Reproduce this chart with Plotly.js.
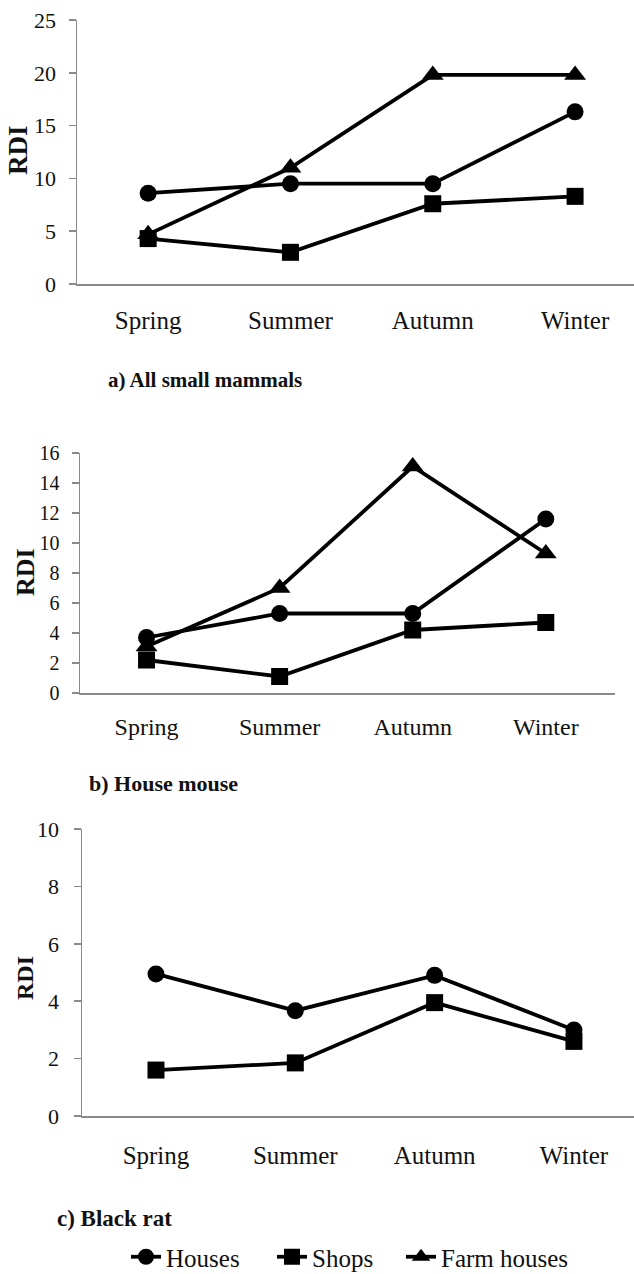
<!DOCTYPE html>
<html>
<head>
<meta charset="utf-8">
<script src="https://cdn.plot.ly/plotly-3.0.1.min.js"></script>
<style>html,body{margin:0;padding:0;background:#fff;}#chart{width:634px;height:1274px;}</style>
</head>
<body>
<div id="chart"></div>
<script>
const seasons = ["Spring", "Summer", "Autumn", "Winter"];
const seriesNames = ["Houses", "Shops", "Farm houses"];

// a) All small mammals
const allHouses = [8.6, 9.5, 9.5, 16.3];
const allShops = [4.3, 3.0, 7.6, 8.3];
const allFarm = [4.7, 11.0, 19.8, 19.8];

// b) House mouse
const mouseHouses = [3.7, 5.3, 5.3, 11.6];
const mouseShops = [2.2, 1.1, 4.2, 4.7];
const mouseFarm = [3.1, 7.0, 15.1, 9.3];

// c) Black rat
const ratHouses = [4.95, 3.67, 4.9, 3.0];
const ratShops = [1.6, 1.85, 3.95, 2.6];

const captions = ["a) All small mammals", "b) House mouse", "c) Black rat"];
const yTitle = "RDI";

const W = 634, H = 1274;
const FONT = "'Liberation Serif', 'Times New Roman', Times, serif";
const symbols = ["circle", "square", "triangle-up"];
const msize = [17, 17, 19];
const legendIds = ["legend", "legend2", "legend3"];

function tr(name, idx, y, ax, showleg) {
  return {
    type: "scatter", mode: "lines+markers", name: name,
    x: seasons, y: y, xaxis: "x" + ax, yaxis: "y" + ax,
    line: {color: "#000", width: 3.8},
    marker: {symbol: symbols[idx], size: msize[idx], color: "#000"},
    legend: legendIds[idx],
    legendgroup: name, showlegend: showleg, hoverinfo: "skip"
  };
}

const data = [
  tr(seriesNames[0], 0, allHouses, "", true),
  tr(seriesNames[1], 1, allShops, "", true),
  tr(seriesNames[2], 2, allFarm, "", true),
  tr(seriesNames[0], 0, mouseHouses, "2", false),
  tr(seriesNames[1], 1, mouseShops, "2", false),
  tr(seriesNames[2], 2, mouseFarm, "2", false),
  tr(seriesNames[0], 0, ratHouses, "3", false),
  tr(seriesNames[1], 1, ratShops, "3", false)
];

function px(v) { return v / W; }
function py(v) { return 1 - v / H; }

function xax(x0, x1, r, fs, stand, anchor) {
  return {
    domain: [px(x0), px(x1)], anchor: anchor, type: "category",
    range: r, showgrid: false, zeroline: false, showline: true,
    linecolor: "#8a8a8a", linewidth: 1.5, ticks: "",
    tickfont: {family: FONT, size: fs, color: "#111"},
    ticklabelstandoff: stand, fixedrange: true
  };
}
function yax(top, bottom, maxv, dt, fs, stand, anchor) {
  return {
    domain: [py(bottom), py(top)], anchor: anchor,
    range: [0, maxv], dtick: dt, showgrid: false, zeroline: false,
    showline: true, linecolor: "#8a8a8a", linewidth: 1.5,
    ticks: "outside", ticklen: 7, tickcolor: "#8a8a8a", tickwidth: 1.5,
    tickfont: {family: FONT, size: fs, color: "#111"},
    ticklabelstandoff: stand, fixedrange: true
  };
}
function leg(xpx) {
  return {
    orientation: "h", x: px(xpx), y: py(1257), xanchor: "left", yanchor: "middle",
    font: {family: FONT, size: 25, color: "#111"},
    bgcolor: "rgba(0,0,0,0)", itemclick: false, itemdoubleclick: false
  };
}

const layout = {
  width: W, height: H,
  margin: {l: 0, r: 0, t: 0, b: 0, autoexpand: false},
  paper_bgcolor: "#fff", plot_bgcolor: "#fff",
  font: {family: FONT},
  showlegend: true,
  legend: leg(126),
  legend2: leg(272),
  legend3: leg(401),
  xaxis: xax(77, 634, [-0.5, 3.414], 25, 13, "y"),
  yaxis: yax(20, 284, 25, 5, 22, 8, "x"),
  xaxis2: xax(80, 615, [-0.5, 3.52], 24, 12, "y2"),
  yaxis2: yax(453, 693, 16, 2, 20, 8, "x2"),
  xaxis3: xax(82, 634, [-0.531, 3.431], 25, 16, "y3"),
  yaxis3: yax(829, 1116, 10, 2, 22, 10, "x3"),
  annotations: [
    {text: "<b>" + captions[0] + "</b>", x: px(106), y: py(380), xref: "paper", yref: "paper",
     xanchor: "left", yanchor: "middle", showarrow: false, font: {family: FONT, size: 21, color: "#111"}},
    {text: "<b>" + captions[1] + "</b>", x: px(87), y: py(783), xref: "paper", yref: "paper",
     xanchor: "left", yanchor: "middle", showarrow: false, font: {family: FONT, size: 22, color: "#111"}},
    {text: "<b>" + captions[2] + "</b>", x: px(55), y: py(1218), xref: "paper", yref: "paper",
     xanchor: "left", yanchor: "middle", showarrow: false, font: {family: FONT, size: 23, color: "#111"}},
    {text: "<b>" + yTitle + "</b>", x: px(18), y: py(150), xref: "paper", yref: "paper", textangle: -90,
     xanchor: "center", yanchor: "middle", showarrow: false, font: {family: FONT, size: 27, color: "#111"}},
    {text: "<b>" + yTitle + "</b>", x: px(25), y: py(572), xref: "paper", yref: "paper", textangle: -90,
     xanchor: "center", yanchor: "middle", showarrow: false, font: {family: FONT, size: 26, color: "#111"}},
    {text: "<b>" + yTitle + "</b>", x: px(25), y: py(978), xref: "paper", yref: "paper", textangle: -90,
     xanchor: "center", yanchor: "middle", showarrow: false, font: {family: FONT, size: 24, color: "#111"}}
  ]
};

Plotly.newPlot("chart", data, layout, {displayModeBar: false, staticPlot: true});
</script>
</body>
</html>
